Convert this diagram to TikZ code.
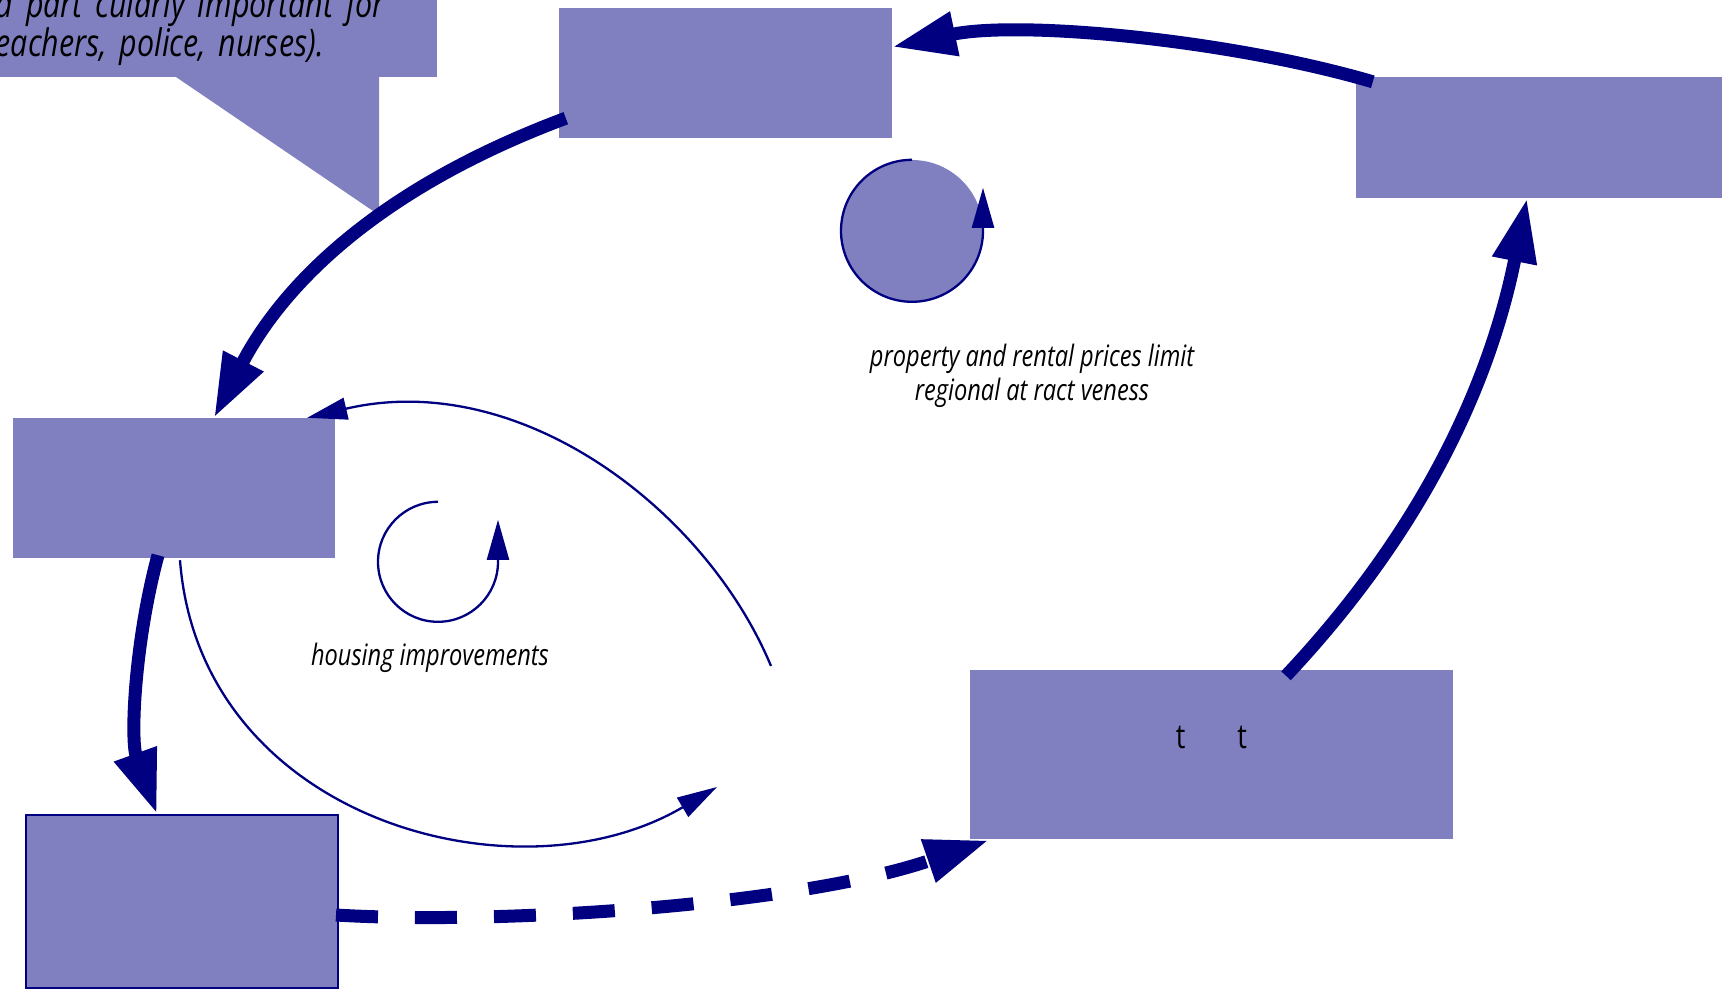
\documentclass[tikz,border=0pt]{standalone}
\usepackage{fontspec}
\newfontfamily\diagfont{Open Sans}[FakeStretch=0.80]
\usetikzlibrary{arrows.meta,positioning,calc}
\definecolor{mNavy}{RGB}{0,0,128}
\definecolor{mLilac}{RGB}{128,128,192}
\tikzstyle{line} = [draw, mNavy, -{Triangle[length=64pt,width=42pt]}, line width=13pt]
\tikzstyle{dashline} = [line, dash pattern=on 42pt off 37pt]
\tikzstyle{tline} = [draw, mNavy, -{Triangle[length=40pt,width=22pt]}, line width=2.3pt]

\begin{document}
\begin{tikzpicture}[
    x=1pt, y=-1pt,
    stock/.style={
      rectangle,
      fill=mLilac,
      inner sep=0pt,
    },
    note/.style={
      font=\diagfont\itshape\fontsize{29.5}{34}\selectfont,
      align=center,
      inner sep=0pt,
    },
  ]
  \useasboundingbox (0,0) rectangle (1723,994);
  \clip (0,0) rectangle (1723,994);

  \node[stock, anchor=south east, align=left, text width=435pt,
    inner xsep=6pt, inner ysep=11pt,
    font=\diagfont\itshape\fontsize{38}{39}\selectfont] (callout) at (437,77)
    {d part cularly important for\\eachers, police, nurses).};
  \fill[mLilac] ($(callout.south east)+(-261,0)$) -- ($(callout.south east)+(-58,0)$)
    -- ($(callout.south east)+(-58,138)$) -- cycle;

  \node[stock, minimum width=333pt, minimum height=130pt] (topmid) at (725.5,73) {};
  \node[stock, minimum width=366pt, minimum height=121pt] (topright) at (1539,137.5) {};
  \node[stock, minimum width=322pt, minimum height=140pt] (midleft) at (174,488) {};
  \node[stock, draw=mNavy, line width=2pt, minimum width=312pt,
    minimum height=173pt] (botleft) at (182,901.5) {};
  \node[stock, minimum width=483pt, minimum height=169pt,
    font=\diagfont\fontsize{34}{38}\selectfont,
    text height=10pt, text depth=23pt] (botright) at (1211.5,754.5) {t\hspace{52pt}t};

  \node[circle, fill=mLilac, minimum size=142pt, inner sep=0pt] (loopA) at (912,231) {};
  \draw[tline] (loopA.north) arc[start angle=-90, end angle=-360, radius=71] -- ++(0,-43);
  \node[note, below=42pt of loopA, xshift=120pt] (noteA)
    {property and rental prices limit\\regional at ract veness};

  \node[circle, minimum size=120pt, inner sep=0pt] (loopB) at (438,562) {};
  \draw[tline] (loopB.north) arc[start angle=-90, end angle=-360, radius=60] -- ++(0,-42);
  \node[note, below=21pt of loopB, xshift=-8pt] (noteB) {housing improvements};

  \draw[line] ($(topright.north west)+(17,5)$)
    .. controls +(-143,-42) and +(128,-27) .. ($(topmid.east)+(0,-26)$);
  \draw[line] ($(topmid.south west)+(7,-20)$)
    .. controls +(-206,77) and +(61,-118) .. ($(midleft.north)+(40,0)$);
  \draw[line] ($(midleft.south)+(-16,-3)$)
    .. controls +(-23,85) and +(-27,-75) .. ($(botleft.north)+(-25,0)$);
  \draw[dashline] ($(botleft.east)+(-3,13.5)$)
    .. controls +(165,10) and +(-189,65) .. ($(botright.south west)+(19,1)$);
  \draw[line] ($(botright.north)+(74.5,6)$)
    .. controls +(160,-170) and +(-30,150) .. ($(topright.south)+(-12,0)$);

  % free ends
  \coordinate (fromE) at (771,666);
  \coordinate (toE) at (717,787);
  \draw[tline] (fromE)
    .. controls +(-65,-156) and +(213,-50) .. ($(midleft.north east)+(-28,0)$);
  \draw[tline] ($(midleft.south)+(6,2)$)
    .. controls +(20,260) and +(-200,118) .. (toE);

\end{tikzpicture}
\end{document}
